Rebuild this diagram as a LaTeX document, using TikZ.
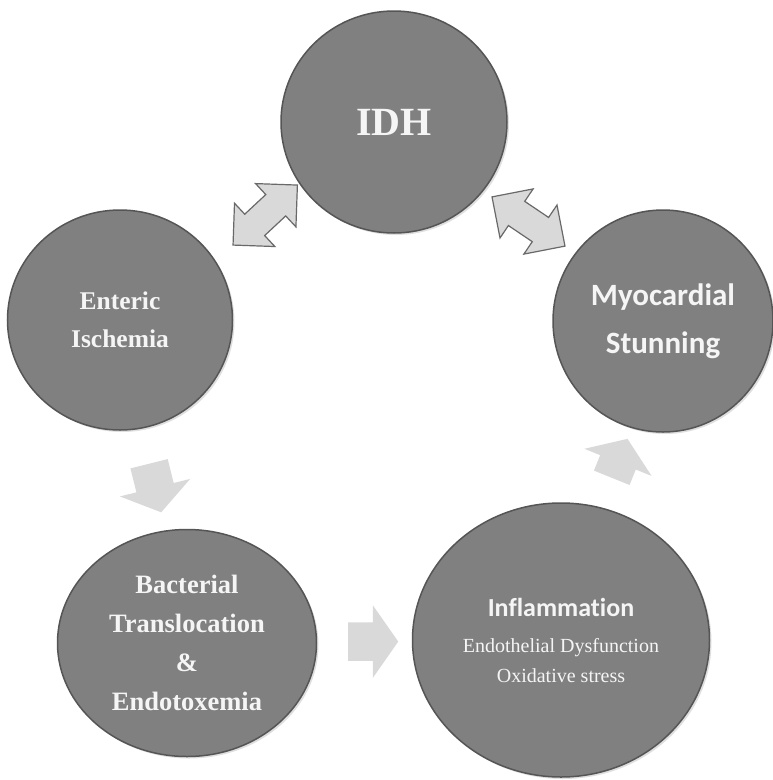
\documentclass[tikz,border=0pt]{standalone}
\usepackage{fontspec}
\setmainfont{Liberation Serif}
\newfontfamily\calib[Ligatures=NoCommon]{Carlito}
\usetikzlibrary{shapes.geometric,shapes.arrows,shadows,calc}
\definecolor{ballgray}{RGB}{128,128,128}
\definecolor{rimgray}{RGB}{85,85,85}
\definecolor{arrowgray}{RGB}{217,217,217}
\definecolor{edgegray}{RGB}{105,105,105}
\definecolor{textwhite}{RGB}{245,245,245}
\begin{document}
\begin{tikzpicture}[x=1pt,y=-1pt,
	ball/.style={ellipse,draw=rimgray,line width=1.5pt,fill=ballgray,inner sep=0pt,
		text=textwhite,align=center,
		drop shadow={opacity=0.25,shadow xshift=2pt,shadow yshift=-2pt}},
	twoway/.style={double arrow,draw=edgegray,line width=1.2pt,fill=arrowgray,
		inner xsep=0pt,inner ysep=14pt,
		minimum height=88pt,double arrow head extend=15pt},
	oneway/.style={single arrow,fill=arrowgray,inner xsep=0pt,inner ysep=19pt,
		minimum height=50pt,single arrow head extend=17pt,
		single arrow tip angle=110},]
\useasboundingbox[fill=white] (0,0) rectangle (773,780);
% circles
\node[ball,minimum width=226pt,minimum height=222pt,
	font=\bfseries\fontsize{40}{48}\selectfont] (idh) at (394,122) {IDH};
\node[ball,minimum width=225pt,minimum height=220pt,
	font=\bfseries\fontsize{25.5}{38}\selectfont] (ent) at (120,320) {Enteric\\Ischemia};
\node[ball,minimum width=220pt,minimum height=222pt,
	font=\calib\bfseries\fontsize{31}{48}\selectfont] (myo) at (663,321) {Myocardial\\Stunning};
\node[ball,minimum width=259pt,minimum height=227pt,
	font=\bfseries\fontsize{26.5}{39}\selectfont] (bac) at (187,643)
	{Bacterial\\Translocation\\\&\\Endotoxemia};
\node[ball,minimum width=297pt,minimum height=274pt,
	font=\fontsize{20}{30}\selectfont] (inf) at (561,640)
	{{\calib\bfseries\fontsize{26}{30}\selectfont Inflammation}\\[6pt]
	Endothelial Dysfunction\\Oxidative stress};
% block arrows
\node[twoway,rotate=43] (entidh) at ($(ent)!.53!(idh)$) {};
\node[twoway,rotate=-34] (idhmyo) at ($(idh)!.5!(myo)$) {};
\node[oneway,rotate=-76] (entbac) at ($(ent)!.5!(bac)$) {};
\node[oneway] (bacinf) at ($(bac)!.48!(inf)$) {};
\node[oneway,rotate=68,minimum height=42pt] (infmyo) at ($(inf)!.55!(myo)$) {};
\end{tikzpicture}
\end{document}
